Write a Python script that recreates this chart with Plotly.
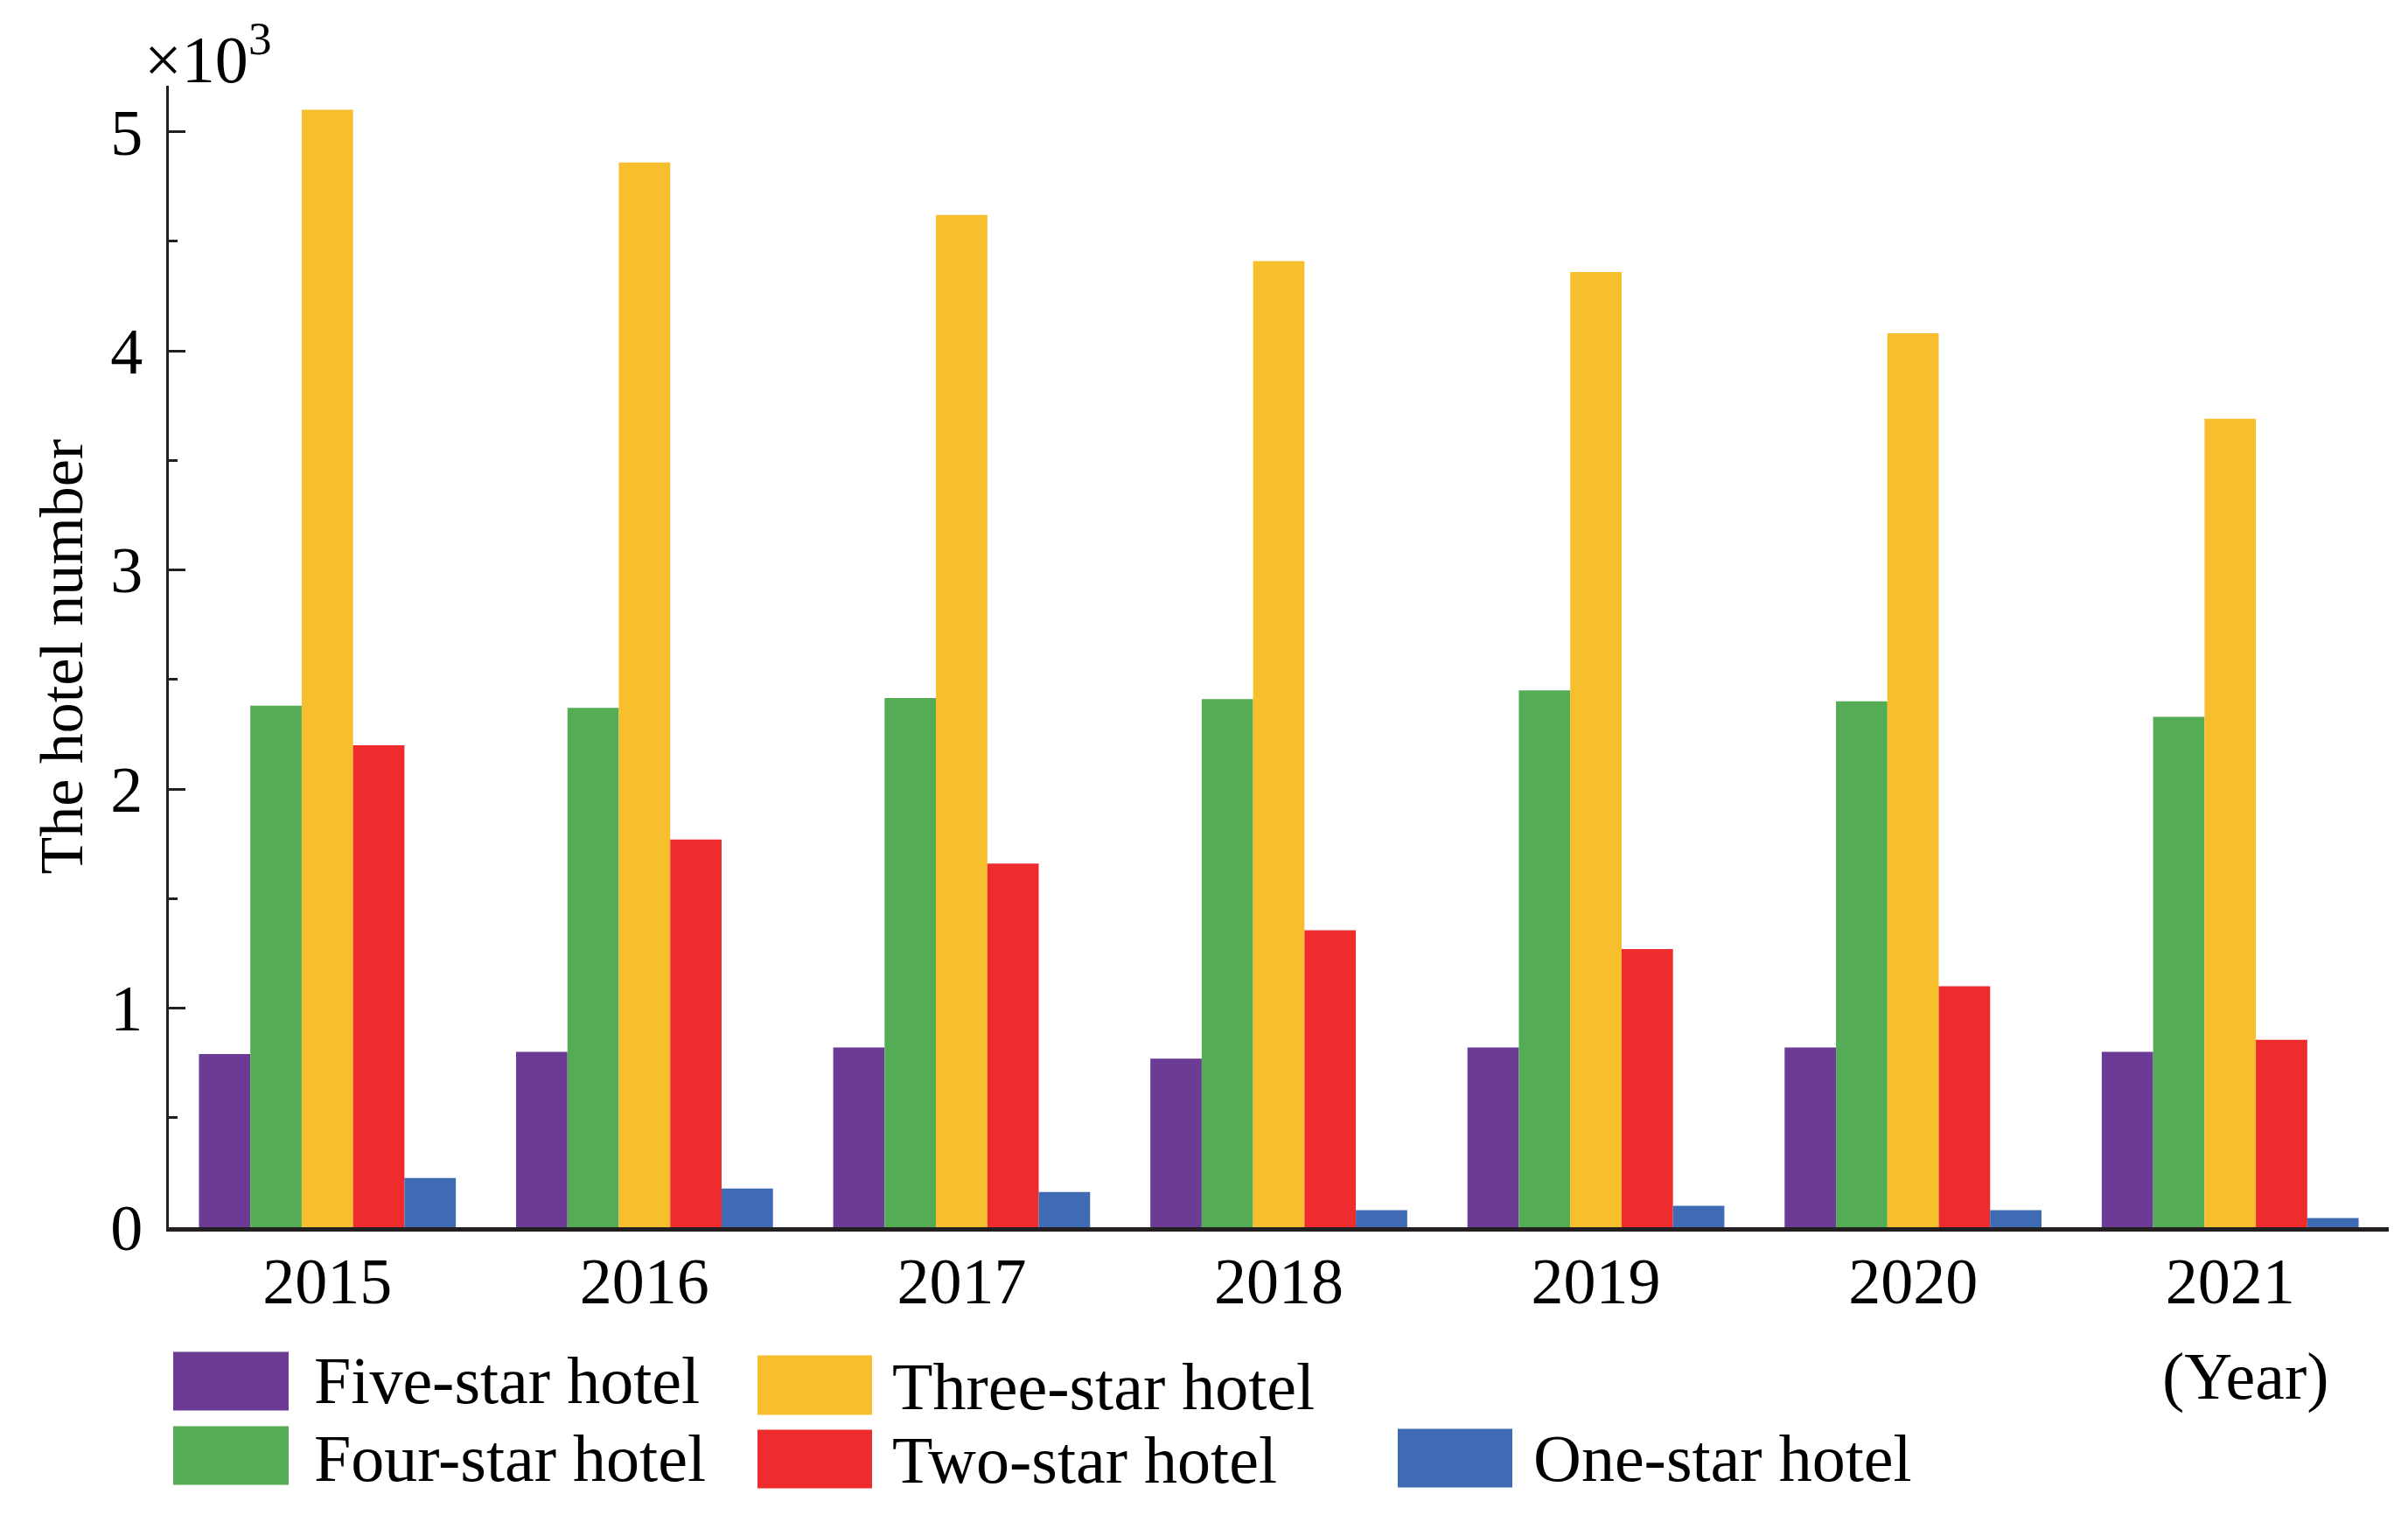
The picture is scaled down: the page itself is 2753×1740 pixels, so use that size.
import plotly.graph_objects as go

# ---------------- data ----------------
years = ["2015", "2016", "2017", "2018", "2019", "2020", "2021"]
five_star = [0.79, 0.80, 0.82, 0.77, 0.82, 0.82, 0.80]
four_star = [2.38, 2.37, 2.415, 2.41, 2.45, 2.40, 2.33]
three_star = [5.10, 4.86, 4.62, 4.41, 4.36, 4.08, 3.69]
two_star = [2.20, 1.77, 1.66, 1.355, 1.27, 1.10, 0.855]
one_star = [0.225, 0.177, 0.161, 0.078, 0.098, 0.078, 0.042]

series_names = ["Five-star hotel", "Four-star hotel", "Three-star hotel",
                "Two-star hotel", "One-star hotel"]
series_values = [five_star, four_star, three_star, two_star, one_star]
y_tick_vals = [0, 1, 2, 3, 4, 5]
y_tick_text = ["0", "1", "2", "3", "4", "5"]

# ---------------- style ----------------
colors = ["#6C3B96", "#54AC54", "#F7BE2E", "#EE2B2D", "#3F6AB4"]
FONT = "Liberation Serif"
AXIS_COLOR = "#231F20"

W, H = 2753, 1740
ML, MR, MT, MB = 193, 22, 98, 336.5
PW = W - ML - MR
PH = H - MT - MB


def px_x(x):
    return (x - ML) / PW


def px_y(y):
    return (H - MB - y) / PH


fig = go.Figure()
for name, vals, col in zip(series_names, series_values, colors):
    fig.add_trace(go.Bar(x=years, y=vals, name=name, marker_color=col,
                         marker_line_width=0, showlegend=False))

fig.update_layout(
    width=W, height=H,
    margin=dict(l=ML, r=MR, t=MT, b=MB, pad=0),
    paper_bgcolor="white", plot_bgcolor="white",
    barmode="group", bargap=0.19, bargroupgap=0,
    font=dict(family=FONT, color="black", size=74),
)

fig.update_xaxes(
    type="category", range=[-0.5, 6.5],
    showline=True, linecolor=AXIS_COLOR, linewidth=5,
    ticks="", showgrid=False, zeroline=False,
    tickfont=dict(family=FONT, size=74, color="black"),
    ticklabelstandoff=-7,
)
fig.update_yaxes(
    range=[0, 5.21],
    tickvals=y_tick_vals, ticktext=y_tick_text,
    showline=True, linecolor=AXIS_COLOR, linewidth=3,
    ticks="inside", ticklen=19, tickwidth=3, tickcolor=AXIS_COLOR,
    minor=dict(dtick=0.5, ticks="inside", ticklen=10, tickwidth=3,
               tickcolor=AXIS_COLOR, showgrid=False),
    showgrid=False, zeroline=False,
    tickfont=dict(family=FONT, size=74, color="black"),
    ticklabelstandoff=12,
)

# y axis title
fig.add_annotation(text="The hotel number", xref="paper", yref="paper",
                   x=px_x(70), y=0.5, textangle=-90, showarrow=False,
                   xanchor="center", yanchor="middle",
                   font=dict(family=FONT, size=70, color="black"))
# multiplier
fig.add_annotation(text="×10<sup>3</sup>", xref="paper", yref="paper",
                   x=px_x(163), y=px_y(112), showarrow=False,
                   xanchor="left", yanchor="bottom",
                   font=dict(family=FONT, size=76, color="black"))
# x unit
fig.add_annotation(text="(Year)", xref="x", yref="paper",
                   x=len(years) - 1, y=px_y(1574), xshift=18, showarrow=False,
                   xanchor="center", yanchor="middle",
                   font=dict(family=FONT, size=76, color="black"))

# legend (drawn manually to match the original two-row layout)
legend_layout = [  # swatch x0, x1, y0, y1, text x, text y (pixels)
    (198, 330, 1546, 1613, 357, 1579),
    (198, 330, 1631, 1698, 357, 1668),
    (866, 997, 1550, 1618, 1018, 1586),
    (866, 997, 1635, 1702, 1018, 1670),
    (1598, 1729, 1634, 1701, 1751, 1668),
]
for name, col, (x0, x1, y0, y1, tx, ty) in zip(series_names, colors, legend_layout):
    fig.add_shape(type="rect", xref="paper", yref="paper",
                  x0=px_x(x0), x1=px_x(x1), y0=px_y(y1), y1=px_y(y0),
                  fillcolor=col, line_width=0)
    fig.add_annotation(text=name, xref="paper", yref="paper",
                       x=px_x(tx), y=px_y(ty), showarrow=False,
                       xanchor="left", yanchor="middle",
                       font=dict(family=FONT, size=76, color="black"))

fig.write_html("out.html", config={"displayModeBar": False},
               post_script="document.body.style.margin='0';")
